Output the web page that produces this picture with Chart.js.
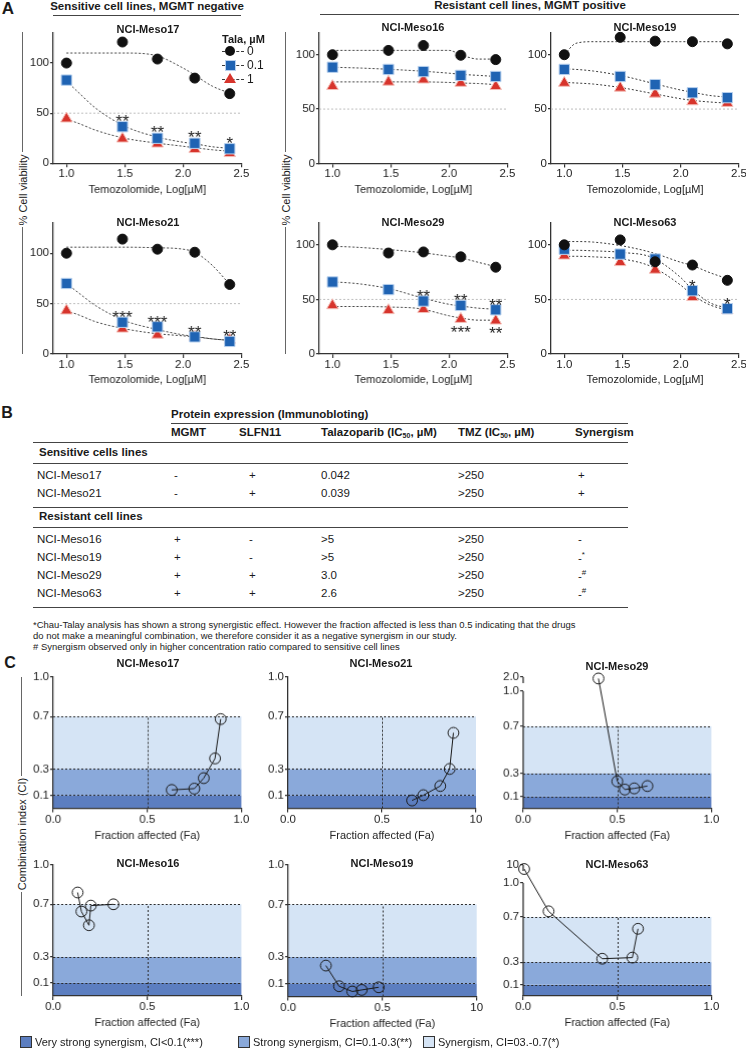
<!DOCTYPE html>
<html>
<head>
<meta charset="utf-8">
<title>Talazoparib + temozolomide in mesothelioma lines</title>
<script src="https://cdn.jsdelivr.net/npm/chart.js@4.4.1/dist/chart.umd.min.js"></script>
<style>
  body { margin: 0; background: #fff; }
  #page { position: relative; width: 746px; height: 1050px; overflow: hidden;
          font-family: "Liberation Sans", Arial, Helvetica, sans-serif; color: #1a1a1a; }
  .t { position: absolute; white-space: nowrap; line-height: 1; }
  .box { position: absolute; }
  .hr { position: absolute; height: 0; border-top: 1.5px solid #444; }
  .vr { position: absolute; width: 0; border-left: 1.5px solid #666; }
  sub { font-size: 7px; vertical-align: -2px; }
  sup { font-size: 8px; vertical-align: 5px; }
</style>
</head>
<body>
<div id="page"></div>
<script>
// ---------- Panel A : % viability vs log[TMZ] ----------
const tmzLog = [1.0, 1.48, 1.78, 2.1, 2.4];
const fitLog = [1.0, 1.1, 1.25, 1.5, 1.75, 2.0, 2.1, 2.25, 2.4];
const talaDoses = ['0', '0.1', '1'];
const viabXTicks = [1.0, 1.5, 2.0, 2.5];
const viabYTicks = [0, 50, 100];
const halfLevel = 50;

const meso17Tala0 = [100, 121, 104, 85, 69.5];
const meso17Tala01 = [83, 36.5, 25, 20, 14.5];
const meso17Tala1 = [44.5, 24.5, 19.5, 14, 10];
const meso17Fit0 = [110, 110, 110, 110, 108, 95, 88, 77, 70];
const meso17Fit01 = [82, 71, 55, 37, 27, 21, 19.5, 16.5, 15];
const meso17Fit1 = [44, 40, 33, 25, 20.5, 17, 15.5, 13.5, 12];
const meso17Stars01 = ['', '**', '**', '**', '*'];

const meso16Tala0 = [100, 104, 108.5, 99.5, 95.5];
const meso16Tala01 = [88.5, 86.5, 84.5, 81, 80];
const meso16Tala1 = [71, 75, 77, 74, 71];
const meso16Fit0 = [104, 104, 104, 104, 104, 104, 100, 96, 96];
const meso16Fit01 = [88.5, 88.2, 87.7, 86.5, 85, 83, 82, 81, 80];
const meso16Fit1 = [75, 75, 75, 75, 75, 74.5, 74, 73.5, 72.5];

const meso19Tala0 = [100, 116, 112.5, 112, 110];
const meso19Tala01 = [86.5, 80, 72.5, 65, 60.5];
const meso19Tala1 = [74, 69.5, 64, 57, 55.5];
const meso19Fit0 = [100, 110.5, 112, 112, 112, 112, 112, 112, 112];
const meso19Fit01 = [87, 86.5, 85, 80.5, 74, 67.5, 65.5, 62.5, 61];
const meso19Fit1 = [74.5, 74, 73, 69.5, 64.5, 59.5, 58, 56.5, 55.5];

const meso21Tala0 = [100, 114, 104, 101, 69];
const meso21Tala01 = [70, 31.5, 27, 17, 12.5];
const meso21Tala1 = [43, 25, 19, 17, 14];
const meso21Fit0 = [106, 106, 106, 106, 105.5, 104, 101, 88, 69];
const meso21Fit01 = [70, 61, 48, 33, 25, 19, 17.5, 15, 13.5];
const meso21Fit1 = [43, 39, 32, 25, 20.5, 18, 17, 15, 13.5];
const meso21Stars01 = ['', '***', '***', '**', '**'];

const meso29Tala0 = [100, 92.5, 93.5, 89, 79.5];
const meso29Tala01 = [66, 59, 48.5, 44.5, 40.5];
const meso29Tala1 = [44.5, 40, 41, 32, 30.5];
const meso29Fit0 = [98.5, 98.3, 97.5, 95.5, 93, 89.5, 88, 84, 80];
const meso29Fit01 = [66, 65.5, 64, 59.5, 52, 45.5, 44, 42, 41];
const meso29Fit1 = [43.5, 43.5, 43.5, 43, 41.5, 35, 33, 31, 31];
const meso29Stars01 = ['', '', '**', '**', '**'];
const meso29Stars1 = ['', '', '', '***', '**'];

const meso63Tala0 = [100, 104.5, 84.5, 81.5, 67.5];
const meso63Tala01 = [96, 91.5, 87, 58, 41.5];
const meso63Tala1 = [90, 84, 77, 52, 40];
const meso63Fit0 = [103, 103, 102.5, 99, 93, 84, 81, 74.5, 69];
const meso63Fit01 = [95, 95, 94.5, 93, 88.5, 70, 59, 47, 42];
const meso63Fit1 = [89.5, 89.5, 89, 87, 80, 63, 54, 45, 40];
const meso63Stars01 = ['', '', '', '*', '*'];

// ---------- Panel B : table ----------
const tableHead = ['MGMT', 'SLFN11', 'Talazoparib (IC<sub>50</sub>, µM)', 'TMZ (IC<sub>50</sub>, µM)', 'Synergism'];
const sensitiveRows = [
  ['NCI-Meso17', '-', '+', '0.042', '>250', '+'],
  ['NCI-Meso21', '-', '+', '0.039', '>250', '+']
];
const resistantRows = [
  ['NCI-Meso16', '+', '-', '>5', '>250', '-'],
  ['NCI-Meso19', '+', '-', '>5', '>250', '-<sup>*</sup>'],
  ['NCI-Meso29', '+', '+', '3.0', '>250', '-<sup>#</sup>'],
  ['NCI-Meso63', '+', '+', '2.6', '>250', '-<sup>#</sup>']
];
const footnotes = [
  '*Chau-Talay analysis has shown a strong synergistic effect. However the fraction affected is less than 0.5 indicating that the drugs',
  'do not make a meaningful combination, we therefore consider it as a negative synergism in our study.',
  '# Synergism observed only in higher concentration ratio compared to sensitive cell lines'
];

// ---------- Panel C : combination index vs fraction affected ----------
const faTicks = [0, 0.5, 1.0];
const ciTicks = [0.1, 0.3, 0.7, 1.0];
const ciBandLimits = [0.1, 0.3, 0.7];
const ciBandColors = ['#5c7ec0', '#8aa9da', '#d5e4f5'];
const ciBandNames = ['Very strong synergism, CI<0.1(***)', 'Strong synergism, CI=0.1-0.3(**)', 'Synergism, CI=03.-0.7(*)'];

const c17Fa = [0.63, 0.75, 0.80, 0.86, 0.89];
const c17Ci = [0.14, 0.15, 0.23, 0.38, 0.68];
const c21Fa = [0.66, 0.72, 0.81, 0.86, 0.88];
const c21Ci = [0.06, 0.10, 0.17, 0.30, 0.575];
const c29Fa = [0.40, 0.50, 0.54, 0.59, 0.66];
const c29Ci = [1.9, 0.23, 0.16, 0.17, 0.19];
const c16Fa = [0.13, 0.15, 0.19, 0.20, 0.32];
const c16Ci = [0.79, 0.645, 0.54, 0.69, 0.70];
const c19Fa = [0.20, 0.27, 0.34, 0.39, 0.48];
const c19Ci = [0.235, 0.078, 0.038, 0.05, 0.07];
const c63Fa = [0.005, 0.135, 0.42, 0.58, 0.61];
const c63Ci = [8, 0.75, 0.33, 0.34, 0.595];

Chart.defaults.font.family = '"Liberation Sans", Arial, Helvetica, sans-serif';
Chart.defaults.color = '#222';

const page = document.getElementById('page');
const starSets = {};
const breakSets = {};

function put(html, x, y, css) {
  const d = document.createElement('div');
  d.className = 't';
  d.innerHTML = html;
  d.style.left = x + 'px';
  d.style.top = y + 'px';
  Object.assign(d.style, css || {});
  page.appendChild(d);
  return d;
}
function hline(x1, x2, y) {
  const d = document.createElement('div');
  d.className = 'hr';
  Object.assign(d.style, { left: x1 + 'px', top: y + 'px', width: (x2 - x1) + 'px' });
  page.appendChild(d);
}
function vline(x, y1, y2) {
  const d = document.createElement('div');
  d.className = 'vr';
  Object.assign(d.style, { left: x + 'px', top: y1 + 'px', height: (y2 - y1) + 'px' });
  page.appendChild(d);
}
const centered = { transform: 'translate(-50%,-50%)' };
const midLeft = { transform: 'translateY(-50%)' };
function xy(xs, ys) { return xs.map((x, i) => ({ x, y: ys[i] })); }

// asterisks above / below points
Chart.register({
  id: 'starLabels',
  afterDatasetsDraw(chart) {
    const sets = starSets[chart.canvas.id];
    if (!sets) return;
    const { ctx } = chart;
    const xs = chart.scales.x, ys = chart.scales.y;
    ctx.save();
    ctx.fillStyle = '#222';
    ctx.font = '17px "Liberation Sans", Arial, sans-serif';
    ctx.textAlign = 'center';
    sets.forEach(s => {
      s.labels.forEach((lab, i) => {
        if (!lab) return;
        const px = xs.getPixelForValue(tmzLog[i]);
        const py = ys.getPixelForValue(s.y[i]) + s.dy;
        ctx.fillText(lab, px, py + 10);
      });
    });
    ctx.restore();
  }
});

// CI shading bands + dotted guides
Chart.register({
  id: 'ciBands',
  beforeDraw(chart) {
    if (chart.canvas.dataset.kind !== 'ci') return;
    const { ctx } = chart;
    const xs = chart.scales.x, ys = chart.scales.y;
    const x0 = xs.getPixelForValue(0), x1 = xs.getPixelForValue(1);
    ctx.save();
    let lo = 0;
    ciBandLimits.forEach((hi, i) => {
      const yt = ys.getPixelForValue(hi), yb = ys.getPixelForValue(lo);
      ctx.fillStyle = ciBandColors[i];
      ctx.fillRect(x0, yt, x1 - x0, yb - yt);
      lo = hi;
    });
    ctx.strokeStyle = '#2a2a2a';
    ctx.lineWidth = 1;
    ctx.setLineDash([2, 2]);
    ciBandLimits.forEach(v => {
      const y = Math.round(ys.getPixelForValue(v)) + 0.5;
      ctx.beginPath(); ctx.moveTo(x0, y); ctx.lineTo(x1, y); ctx.stroke();
    });
    const xm = Math.round(xs.getPixelForValue(0.5)) + 0.5;
    ctx.beginPath();
    ctx.moveTo(xm, ys.getPixelForValue(0));
    ctx.lineTo(xm, ys.getPixelForValue(ciBandLimits[2]));
    ctx.stroke();
    ctx.restore();
  },
  afterDraw(chart) {
    const brk = breakSets[chart.canvas.id];
    if (!brk) return;
    const { ctx } = chart;
    const ys = chart.scales.y;
    const x = chart.chartArea.left;
    ctx.save();
    ctx.strokeStyle = '#333';
    ctx.lineWidth = 1.3;
    ctx.beginPath();
    ctx.moveTo(x, ys.getPixelForValue(0));
    ctx.lineTo(x, ys.getPixelForValue(1.0));
    ctx.moveTo(x, ys.getPixelForValue(brk.top));
    ctx.lineTo(x, ys.getPixelForValue(brk.top) + 6);
    ctx.stroke();
    ctx.restore();
  }
});

function makeCanvas(id, l, r, t, b, padTop, padRight, kind) {
  const box = document.createElement('div');
  box.className = 'box';
  Object.assign(box.style, {
    left: (l - 45) + 'px', top: (t - padTop) + 'px',
    width: (r - l + 45 + padRight) + 'px', height: (b - t + padTop + 40) + 'px'
  });
  const cv = document.createElement('canvas');
  cv.id = id;
  if (kind) cv.dataset.kind = kind;
  box.appendChild(cv);
  page.appendChild(box);
  return cv;
}

function axisCommon(tickLen) {
  return {
    grid: { drawOnChartArea: false, drawTicks: true, tickLength: tickLen, color: '#333', lineWidth: 1.2 },
    border: { display: true, color: '#333', width: 1.3 }
  };
}

const markerLook = [
  { style: 'circle', fill: '#111111', edge: '#111111', r: 5 },
  { style: 'rect', fill: '#1f63b3', edge: '#b7d0ee', r: 7.3 },
  { style: 'triangle', fill: '#d7342c', edge: '#f4bdb6', r: 6.6 }
];

function viabilityChart(o) {
  const xMin = 0.886;
  const cv = makeCanvas(o.id, o.l, o.r, o.t, o.b, 10, 12);
  const datasets = [];
  o.pts.forEach((ys, i) => {
    const m = markerLook[i];
    datasets.push({
      label: 'Tala ' + talaDoses[i], data: xy(tmzLog, ys), order: 1 + i, clip: false,
      pointStyle: m.style, pointRadius: m.r, pointBackgroundColor: m.fill,
      pointBorderColor: m.edge, pointBorderWidth: 1, showLine: false
    });
    datasets.push({
      label: 'fit ' + talaDoses[i], data: xy(fitLog, o.fits[i]), order: 10 + i,
      showLine: true, pointRadius: 0, borderColor: '#3a3a3a', borderWidth: 1,
      borderDash: [2, 2], cubicInterpolationMode: 'monotone'
    });
  });
  datasets.push({
    label: '50%', data: [{ x: xMin, y: halfLevel }, { x: 2.5, y: halfLevel }], order: 30,
    showLine: true, pointRadius: 0, borderColor: '#bdbdbd', borderWidth: 1, borderDash: [2, 2]
  });
  if (o.stars) starSets[o.id] = o.stars;

  new Chart(cv, {
    type: 'scatter',
    data: { datasets },
    options: {
      responsive: true, maintainAspectRatio: false, animation: false,
      layout: { padding: { top: 10, right: 12, left: 0, bottom: 0 } },
      plugins: { legend: { display: false }, tooltip: { enabled: false } },
      scales: {
        x: Object.assign(axisCommon(4), {
          type: 'linear', min: xMin, max: 2.5,
          afterBuildTicks: s => { s.ticks = viabXTicks.map(v => ({ value: v })); },
          afterFit: s => { s.height = 40; },
          ticks: { font: { size: 11.5 }, color: '#222', padding: 0, maxRotation: 0, autoSkip: false,
                   callback: v => Number(v).toFixed(1) },
          title: { display: true, text: 'Temozolomide, Log[µM]', font: { size: 11 }, color: '#222',
                   padding: { top: 0, bottom: o.titlePad } }
        }),
        y: Object.assign(axisCommon(3), {
          type: 'linear', min: 0, max: o.yMax,
          afterBuildTicks: s => { s.ticks = viabYTicks.map(v => ({ value: v })); },
          afterFit: s => { s.width = 45; },
          ticks: { font: { size: 11.5 }, color: '#222', padding: 1 }
        })
      }
    }
  });
  put(o.title, o.titleX, o.titleY, Object.assign({ fontSize: '11px', fontWeight: 'bold' }, centered));
}

function ciChart(o) {
  const brk = o.brk || null;
  const yMax = brk ? brk.top : 1.0;
  const toAxis = v => (v <= 1 || !brk) ? v : 1 + (v - 1) / (brk.value - 1) * (brk.top - 1);
  const yTicks = brk ? ciTicks.concat([brk.top]) : ciTicks;
  const cv = makeCanvas(o.id, o.l, o.r, o.t, o.b, 10, 12, 'ci');
  if (brk) breakSets[o.id] = brk;
  const yAxis = Object.assign(axisCommon(3), {
    type: 'linear', min: 0, max: yMax,
    afterBuildTicks: s => { s.ticks = yTicks.map(v => ({ value: v })); },
    afterFit: s => { s.width = 45; },
    ticks: { font: { size: 11.5 }, color: '#222', padding: 1,
             callback: v => v > 1.001 ? brk.label : Number(v).toFixed(1) }
  });
  if (brk) yAxis.border = { display: false };

  new Chart(cv, {
    type: 'scatter',
    data: {
      datasets: [{
        label: o.title, data: xy(o.fa, o.ci.map(toAxis)), clip: false,
        showLine: true, borderColor: '#1a1a1a', borderWidth: 1, tension: 0,
        pointStyle: 'circle', pointRadius: 5.4, pointBackgroundColor: 'rgba(0,0,0,0)',
        pointBorderColor: '#1a1a1a', pointBorderWidth: 1
      }]
    },
    options: {
      responsive: true, maintainAspectRatio: false, animation: false,
      layout: { padding: { top: 10, right: 12, left: 0, bottom: 0 } },
      plugins: { legend: { display: false }, tooltip: { enabled: false } },
      scales: {
        x: Object.assign(axisCommon(4), {
          type: 'linear', min: 0, max: 1,
          afterBuildTicks: s => { s.ticks = faTicks.map(v => ({ value: v })); },
          afterFit: s => { s.height = 40; },
          ticks: { font: { size: 11.5 }, color: '#222', padding: 0, maxRotation: 0, autoSkip: false,
                   callback: (v, i) => o.xLabels[i] },
          title: { display: true, text: 'Fraction affected (Fa)', font: { size: 11 }, color: '#222',
                   padding: { top: 0, bottom: o.titlePad } }
        }),
        y: yAxis
      }
    }
  });
  put(o.title, o.titleX, o.titleY, Object.assign({ fontSize: '11px', fontWeight: 'bold' }, centered));
}

// ---------- Panel A layout ----------
put('A', 8, 8, Object.assign({ fontSize: '17px', fontWeight: 'bold' }, centered));
put('Sensitive cell lines, MGMT negative', 147, 7, Object.assign({ fontSize: '11.5px', fontWeight: 'bold' }, centered));
hline(53, 241, 14.5);
put('Resistant cell lines, MGMT positive', 530, 6, Object.assign({ fontSize: '11.5px', fontWeight: 'bold' }, centered));
hline(320, 739, 13.5);

[22, 285].forEach(x => {
  vline(x, 32, 152);
  vline(x, 227, 354);
  put('% Cell viability', x + 1, 190, { fontSize: '11px', transform: 'translate(-50%,-50%) rotate(-90deg)' });
});

viabilityChart({ id: 'vMeso17', title: 'NCI-Meso17', titleX: 148, titleY: 29, l: 53.3, r: 240.7, t: 32.7, b: 163,
  yMax: 130, titlePad: 6.4, pts: [meso17Tala0, meso17Tala01, meso17Tala1], fits: [meso17Fit0, meso17Fit01, meso17Fit1],
  stars: [{ y: meso17Tala01, labels: meso17Stars01, dy: -10 }] });
viabilityChart({ id: 'vMeso16', title: 'NCI-Meso16', titleX: 413, titleY: 27, l: 319.3, r: 506.7, t: 32.6, b: 163,
  yMax: 120, titlePad: 6.4, pts: [meso16Tala0, meso16Tala01, meso16Tala1], fits: [meso16Fit0, meso16Fit01, meso16Fit1] });
viabilityChart({ id: 'vMeso19', title: 'NCI-Meso19', titleX: 645, titleY: 27, l: 550.7, r: 738.7, t: 32.6, b: 163,
  yMax: 120, titlePad: 6.4, pts: [meso19Tala0, meso19Tala01, meso19Tala1], fits: [meso19Fit0, meso19Fit01, meso19Fit1] });
viabilityChart({ id: 'vMeso21', title: 'NCI-Meso21', titleX: 148, titleY: 222, l: 53.3, r: 240.7, t: 223, b: 354,
  yMax: 130, titlePad: 7.4, pts: [meso21Tala0, meso21Tala01, meso21Tala1], fits: [meso21Fit0, meso21Fit01, meso21Fit1],
  stars: [{ y: meso21Tala01, labels: meso21Stars01, dy: -9 }] });
viabilityChart({ id: 'vMeso29', title: 'NCI-Meso29', titleX: 413, titleY: 222, l: 319.3, r: 506.7, t: 223, b: 354,
  yMax: 120, titlePad: 7.4, pts: [meso29Tala0, meso29Tala01, meso29Tala1], fits: [meso29Fit0, meso29Fit01, meso29Fit1],
  stars: [{ y: meso29Tala01, labels: meso29Stars01, dy: -9 }, { y: meso29Tala1, labels: meso29Stars1, dy: 8.5 }] });
viabilityChart({ id: 'vMeso63', title: 'NCI-Meso63', titleX: 645, titleY: 222, l: 550.7, r: 738.7, t: 223, b: 354,
  yMax: 120, titlePad: 7.4, pts: [meso63Tala0, meso63Tala01, meso63Tala1], fits: [meso63Fit0, meso63Fit01, meso63Fit1],
  stars: [{ y: meso63Tala01, labels: meso63Stars01, dy: -9 }] });

// legend of the first chart
put('Tala, µM', 222, 39, Object.assign({ fontSize: '11px', fontWeight: 'bold' }, midLeft));
[51, 65, 79].forEach((y, i) => {
  const dash = document.createElement('div');
  Object.assign(dash.style, { position: 'absolute', left: '222px', top: (y - 0.5) + 'px', width: '22px',
    borderTop: '1px dashed #3a3a3a' });
  page.appendChild(dash);
  const mk = document.createElement('div');
  mk.style.position = 'absolute';
  if (i === 0) Object.assign(mk.style, { left: '225px', top: (y - 5) + 'px', width: '10px', height: '10px',
    borderRadius: '50%', background: '#111' });
  if (i === 1) Object.assign(mk.style, { left: '225px', top: (y - 5.5) + 'px', width: '9px', height: '9px',
    background: '#1f63b3', border: '1px solid #b7d0ee' });
  if (i === 2) Object.assign(mk.style, { left: '224px', top: (y - 6) + 'px', width: 0, height: 0,
    borderLeft: '6px solid transparent', borderRight: '6px solid transparent', borderBottom: '10px solid #d7342c' });
  page.appendChild(mk);
  put(talaDoses[i], 247, y, Object.assign({ fontSize: '12px' }, midLeft));
});

// ---------- Panel B layout ----------
const colX = [37, 171, 239, 321, 458, 575];
const cellX = [37, 174, 249, 321, 458, 578];
put('B', 7, 413, Object.assign({ fontSize: '16px', fontWeight: 'bold' }, centered));
put('Protein expression (Immunobloting)', colX[1], 415, Object.assign({ fontSize: '11.5px', fontWeight: 'bold' }, midLeft));
hline(colX[1], 628, 423);
tableHead.forEach((h, i) => put(h, colX[i + 1], 433, Object.assign({ fontSize: '11.5px', fontWeight: 'bold' }, midLeft)));
hline(33, 628, 442);
put('Sensitive cells lines', colX[0] + 2, 453, Object.assign({ fontSize: '11.5px', fontWeight: 'bold' }, midLeft));
hline(33, 628, 463);
[476, 494].forEach((y, r) => sensitiveRows[r].forEach((v, i) =>
  put(v, cellX[i], y, Object.assign({ fontSize: '11.5px' }, midLeft))));
hline(33, 628, 507);
put('Resistant cell lines', colX[0] + 2, 517, Object.assign({ fontSize: '11.5px', fontWeight: 'bold' }, midLeft));
hline(33, 628, 527);
[540, 558, 576, 594].forEach((y, r) => resistantRows[r].forEach((v, i) =>
  put(v, cellX[i], y, Object.assign({ fontSize: '11.5px' }, midLeft))));
hline(33, 628, 607);
const fnEls = footnotes.map((f, i) => put(f, 33, 625 + i * 11, Object.assign({ fontSize: '10px' }, midLeft)));
// fit the footnote size to the printed line width
const fnScale = 543 / fnEls[0].getBoundingClientRect().width;
fnEls.forEach(el => { el.style.fontSize = (10 * fnScale).toFixed(2) + 'px'; });

// ---------- Panel C layout ----------
put('C', 10, 663, Object.assign({ fontSize: '16px', fontWeight: 'bold' }, centered));
vline(21, 677, 776);
vline(21, 892, 996);
put('Combination index (CI)', 22, 834, { fontSize: '11px', transform: 'translate(-50%,-50%) rotate(-90deg)' });

ciChart({ id: 'cMeso17', title: 'NCI-Meso17', titleX: 148, titleY: 663, l: 53.3, r: 240.7, t: 677, b: 807.5,
  titlePad: 5.9, fa: c17Fa, ci: c17Ci, xLabels: ['0.0', '0.5', '1.0'] });
ciChart({ id: 'cMeso21', title: 'NCI-Meso21', titleX: 381, titleY: 663, l: 288.3, r: 476.3, t: 677, b: 807.5,
  titlePad: 5.9, fa: c21Fa, ci: c21Ci, xLabels: ['0.0', '0.5', '10'] });
ciChart({ id: 'cMeso29', title: 'NCI-Meso29', titleX: 617, titleY: 666, l: 523.3, r: 710.7, t: 677, b: 807.5,
  titlePad: 5.9, fa: c29Fa, ci: c29Ci, xLabels: ['0.0', '0.5', '1.0'], brk: { value: 2.0, top: 1.12, label: '2.0' } });
ciChart({ id: 'cMeso16', title: 'NCI-Meso16', titleX: 148, titleY: 863, l: 53.3, r: 240.7, t: 865, b: 996,
  titlePad: 6.4, fa: c16Fa, ci: c16Ci, xLabels: ['0.0', '0.5', '1.0'] });
ciChart({ id: 'cMeso19', title: 'NCI-Meso19', titleX: 382, titleY: 863, l: 288.3, r: 476, t: 864.5, b: 996,
  titlePad: 6.4, fa: c19Fa, ci: c19Ci, xLabels: ['0.0', '0.5', '10'] });
ciChart({ id: 'cMeso63', title: 'NCI-Meso63', titleX: 617, titleY: 864, l: 523.3, r: 710.7, t: 865, b: 996,
  titlePad: 6.4, fa: c63Fa, ci: c63Ci, xLabels: ['0.0', '0.5', '1.0'], brk: { value: 10, top: 1.16, label: '10' } });

// band legend
[20, 238, 423].forEach((x, i) => {
  const sw = document.createElement('div');
  Object.assign(sw.style, { position: 'absolute', left: x + 'px', top: '1036px', width: '10px', height: '10px',
    background: ciBandColors[i], border: '1px solid #333' });
  page.appendChild(sw);
  put(ciBandNames[i], x + 15, 1042, Object.assign({ fontSize: '11px' }, midLeft));
});
</script>
</body>
</html>
